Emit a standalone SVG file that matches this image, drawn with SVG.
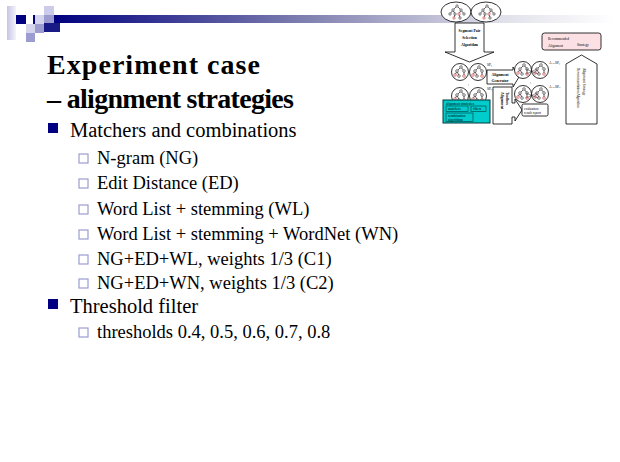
<svg xmlns="http://www.w3.org/2000/svg" width="620" height="462" viewBox="0 0 620 462">
<defs>
<linearGradient id="bar" x1="0" x2="1" y1="0" y2="0"><stop offset="0" stop-color="#000080"/><stop offset="0.45" stop-color="#8080b0"/><stop offset="0.8" stop-color="#e0e0ea"/><stop offset="1" stop-color="#ffffff"/></linearGradient>
<linearGradient id="lt" x1="0" x2="1" y1="0" y2="0"><stop offset="0" stop-color="#c4c4e4"/><stop offset="1" stop-color="#f4f4fa"/></linearGradient>
<g id="tree">
<path d="M1,-5 L-3,-1 M1,-5 L4,-1 M-3,-1 L-5,3 M-3,-1 L-1,4 M4,-1 L4,4" stroke="#000" stroke-width="0.6" fill="none"/>
<circle cx="1" cy="-5" r="1.3"/><circle cx="-3" cy="-1" r="1.3"/><circle cx="4" cy="-1" r="1.3"/>
<circle cx="-5" cy="3" r="1.3" class="rd"/><circle cx="-1" cy="4" r="1.3"/><circle cx="4" cy="4" r="1.3" class="rd"/>
</g>
<g id="tree2">
<path d="M0,-7 L-4,-3 M0,-7 L4,-3 M-4,-3 L-7,1 M-4,-3 L-2,1 M4,-3 L2,1 M4,-3 L7,1 M-2,1 L-3,5 M2,1 L3,5" stroke="#000" stroke-width="0.6" fill="none"/>
<circle cx="0" cy="-7" r="1.2"/><circle cx="-4" cy="-3" r="1.2"/><circle cx="4" cy="-3" r="1.2"/>
<circle cx="-7" cy="1" r="1.2"/><circle cx="-2" cy="1" r="1.2"/><circle cx="2" cy="1" r="1.2" class="rd"/><circle cx="7" cy="1" r="1.2"/>
<circle cx="-3" cy="5" r="1.2" class="rd"/><circle cx="3" cy="5" r="1.2"/>
</g>
</defs>
<style>
.t{font-family:"Liberation Serif","Times New Roman",serif;fill:#000}
.ti{font-size:28px;font-weight:bold}
.m{font-size:20.5px}
.s{font-size:18.5px}
.b{fill:#000080}
.cb{fill:#fff;stroke:#9c9cd0;stroke-width:1.2}
#tree circle,#tree2 circle{fill:#fff;stroke:#000;stroke-width:0.5}
#tree circle.rd,#tree2 circle.rd{stroke:#c00000}
.f{font-family:"Liberation Serif",serif;font-size:3.8px;font-weight:bold;fill:#000}
.fn{font-family:"Liberation Serif",serif;font-size:3.5px;fill:#000}
.ol{fill:#fff;stroke:#000;stroke-width:0.8}
.bx{fill:#fff;stroke:#000;stroke-width:0.8}
</style>

<g id="corner">
<rect x="7" y="6" width="9" height="34" fill="url(#lt)"/>
<rect x="44" y="6" width="10" height="9" fill="#ccccea"/>
<rect x="16" y="15" width="10" height="9" fill="#000080"/>
<rect x="33" y="15" width="2" height="9" fill="#000080"/>
<rect x="35" y="15" width="9" height="9" fill="#d4d4ec"/>
<rect x="44" y="15" width="10" height="9" fill="#9c9cd0"/>
<rect x="54" y="15" width="560" height="8" fill="url(#bar)"/>
<rect x="26" y="24" width="9" height="9" fill="#d4d4ec"/>
<rect x="35" y="24" width="9" height="9" fill="#9c9cd0"/>
<rect x="44" y="23" width="16" height="9" fill="#1a1a86"/>
<rect x="26" y="33" width="9" height="9" fill="#9c9cd0"/>
</g>

<g id="title">
<text x="47" y="74" class="t ti" textLength="213" lengthAdjust="spacing">Experiment case</text>
<text x="47" y="108" class="t ti" textLength="247" lengthAdjust="spacing">– alignment strategies</text>
</g>

<g id="bullets">
<rect x="48" y="123" width="10" height="10" class="b"/>
<text x="70" y="137" class="t m">Matchers and combinations</text>
<rect x="79" y="154" width="9" height="9" class="cb"/>
<text x="97" y="164" class="t s">N-gram (NG)</text>
<rect x="79" y="179" width="9" height="9" class="cb"/>
<text x="97" y="189" class="t s">Edit Distance (ED)</text>
<rect x="79" y="205" width="9" height="9" class="cb"/>
<text x="97" y="215" class="t s">Word List + stemming (WL)</text>
<rect x="79" y="230" width="9" height="9" class="cb"/>
<text x="97" y="240" class="t s">Word List + stemming + WordNet (WN)</text>
<rect x="79" y="255" width="9" height="9" class="cb"/>
<text x="97" y="265" class="t s">NG+ED+WL, weights 1/3 (C1)</text>
<rect x="79" y="279" width="9" height="9" class="cb"/>
<text x="97" y="289" class="t s">NG+ED+WN, weights 1/3 (C2)</text>
<rect x="48" y="299" width="10" height="10" class="b"/>
<text x="70" y="313" class="t m">Threshold filter</text>
<rect x="79" y="328" width="9" height="9" class="cb"/>
<text x="97" y="338" class="t s">thresholds 0.4, 0.5, 0.6, 0.7, 0.8</text>
</g>

<g id="src-ovals">
<ellipse cx="456" cy="12" rx="15" ry="10" class="ol"/>
<ellipse cx="486" cy="12" rx="15" ry="10" class="ol"/>
<use href="#tree2" x="457" y="13"/>
<use href="#tree2" x="487" y="13"/>
</g>
<g id="seg-arrow">
<polygon points="455,23 484,23 484,52 494,52 469.5,62 445,52 455,52" class="bx"/>
<text x="469.5" y="32" text-anchor="middle" class="f">Segment Pair</text>
<text x="469.5" y="39" text-anchor="middle" class="f">Selection</text>
<text x="469.5" y="46" text-anchor="middle" class="f">Algorithm</text>
</g>
<g id="left-pairs">
<circle cx="460" cy="72" r="8.5" class="ol"/><circle cx="478" cy="72" r="8.5" class="ol"/>
<use href="#tree" x="460" y="72"/><use href="#tree" x="478" y="72"/>
<text x="487" y="66" class="fn">SP₁</text>
<text x="468" y="86" class="fn">:</text>
<circle cx="460" cy="96" r="8.5" class="ol"/><circle cx="478" cy="96" r="8.5" class="ol"/>
<use href="#tree" x="460" y="96"/><use href="#tree" x="478" y="96"/>
<text x="487" y="90" class="fn">SPₙ</text>
</g>
<g id="generator">
<polygon points="487,70 513,70 513,67 519,77 513,87 513,84 487,84" class="bx"/>
<text x="500" y="76" text-anchor="middle" class="f">Alignment</text>
<text x="500" y="81.5" text-anchor="middle" class="f">Generator</text>
</g>
<g id="right-pairs">
<circle cx="523" cy="70" r="8.5" class="ol"/><circle cx="540" cy="70" r="8.5" class="ol"/>
<use href="#tree" x="523" y="70"/><use href="#tree" x="540" y="70"/>
<path d="M526,74 L537,69 M526,69 L538,74" stroke="#000" stroke-width="0.4"/>
<text x="549" y="64" class="fn">A→SP₁</text>
<text x="530" y="84" class="fn">:</text>
<circle cx="523" cy="94" r="8.5" class="ol"/><circle cx="540" cy="94" r="8.5" class="ol"/>
<use href="#tree" x="523" y="94"/><use href="#tree" x="540" y="94"/>
<path d="M526,98 L537,93 M526,93 L538,98" stroke="#000" stroke-width="0.4"/>
<text x="549" y="88" class="fn">A→SPₙ</text>
</g>
<g id="toolbox">
<polygon points="493,87 512,87 512,103 515,103 515,99 522,110 515,121 515,117 512,117 512,124 493,124" class="bx"/>
<text transform="translate(500.5 92) rotate(90)" class="f">Alignment</text>
<text transform="translate(505.5 92) rotate(90)" class="f">Toolbox</text>
</g>
<g id="evaluation">
<rect x="522" y="104" width="26" height="12" rx="1.5" class="bx"/>
<text x="524" y="109.5" class="fn">evaluation</text>
<text x="524" y="114" class="fn">result report</text>
</g>
<g id="strategies">
<rect x="443" y="100" width="47" height="23" fill="#00cccc" stroke="#003838" stroke-width="1"/>
<text x="446" y="104.5" class="fn">alignment strategies</text>
<rect x="446" y="106" width="22" height="5.5" fill="#00cccc" stroke="#003838" stroke-width="0.6"/>
<text x="448" y="110" class="fn">matchers</text>
<rect x="471" y="106" width="15" height="5.5" fill="#00cccc" stroke="#003838" stroke-width="0.6"/>
<text x="473" y="110" class="fn">filters</text>
<rect x="446" y="113" width="27" height="8.5" fill="#00cccc" stroke="#003838" stroke-width="0.6"/>
<text x="448" y="116.5" class="fn">combination</text>
<text x="448" y="120.5" class="fn">algorithms</text>
</g>
<g id="recommended">
<rect x="542" y="33" width="59" height="17" rx="2.5" fill="#fbe0e4" stroke="#000" stroke-width="0.8"/>
<text x="548" y="40" class="fn">Recommended</text>
<text x="548" y="46.5" class="fn">Alignment</text>
<text x="577" y="45.5" class="fn">Strategy</text>
</g>
<g id="rec-arrow">
<polygon points="581.5,55 597,64 597,124 566,124 566,64" class="bx"/>
<text transform="translate(583 68) rotate(90)" class="fn">Alignment    Strategy</text>
<text transform="translate(577 68) rotate(90)" class="fn">Recommendation   Algorithm</text>
</g>
</svg>
